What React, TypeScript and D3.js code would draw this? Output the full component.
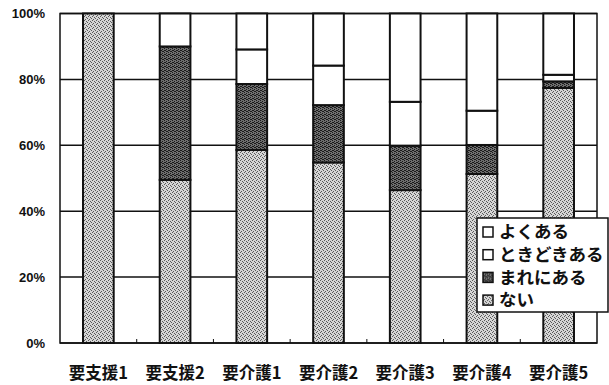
import React, { useEffect, useRef } from 'react';
import * as d3 from 'd3';

const categories = ['要支援1', '要支援2', '要介護1', '要介護2', '要介護3', '要介護4', '要介護5'];
const seriesNames = ['ない', 'まれにある', 'ときどきある', 'よくある'];
const nai = [100, 49.5, 58.6, 54.8, 46.4, 51.3, 77.4];
const mare = [0, 40.5, 20.0, 17.4, 13.5, 8.8, 2.0];
const tokidoki = [0, 10.0, 10.5, 12.0, 13.3, 10.4, 2.0];
const yoku = [0, 0, 10.9, 15.8, 26.8, 29.5, 18.6];
const yTicks = [0, 20, 40, 60, 80, 100];

const App = () => {
    const ref = useRef<SVGSVGElement>(null);

    useEffect(() => {
        const width = 609;
        const height = 385;
        const margin = { top: 13.5, right: 12, bottom: 42, left: 60 };

        const svg = d3.select(ref.current);
        svg.selectAll('*').remove();

        const defs = svg.append('defs');
        // stippled fills, like the printed halftone
        const light = defs.append('pattern')
            .attr('id', 'pLight').attr('width', 4).attr('height', 4)
            .attr('patternUnits', 'userSpaceOnUse');
        light.append('rect').attr('width', 4).attr('height', 4).attr('fill', '#d6d6d6');
        [[0, 0], [2, 1], [1, 3], [3, 2]].forEach(([a, b]) =>
            light.append('rect').attr('x', a).attr('y', b).attr('width', 1).attr('height', 1).attr('fill', '#5a5a5a'));

        const dark = defs.append('pattern')
            .attr('id', 'pDark').attr('width', 4).attr('height', 4)
            .attr('patternUnits', 'userSpaceOnUse');
        dark.append('rect').attr('width', 4).attr('height', 4).attr('fill', '#6e6e6e');
        [[0, 0], [2, 1], [1, 2], [3, 3], [0, 2], [2, 3]].forEach(([a, b]) =>
            dark.append('rect').attr('x', a).attr('y', b).attr('width', 1).attr('height', 1).attr('fill', '#1a1a1a'));

        const fills = ['url(#pLight)', 'url(#pDark)', '#ffffff', '#ffffff'];

        const x = d3.scaleBand()
            .domain(categories)
            .range([margin.left, width - margin.right])
            .paddingInner(0.6)
            .paddingOuter(0.3);

        const y = d3.scaleLinear()
            .domain([0, 100])
            .range([height - margin.bottom, margin.top]);

        // plot frame + grid
        svg.append('rect')
            .attr('x', margin.left).attr('y', margin.top)
            .attr('width', width - margin.right - margin.left)
            .attr('height', y(0) - margin.top)
            .attr('fill', 'none').attr('stroke', '#111').attr('stroke-width', 1.5);

        svg.selectAll('.grid')
            .data(yTicks)
            .enter().append('line')
            .attr('class', 'grid')
            .attr('x1', margin.left).attr('x2', width - margin.right)
            .attr('y1', d => y(d)).attr('y2', d => y(d))
            .attr('stroke', '#111').attr('stroke-width', 1.5);

        // small category ticks at band boundaries
        const step = x.step();
        svg.selectAll('.ctick')
            .data(categories.slice(1))
            .enter().append('line')
            .attr('x1', d => x(d)! - step * 0.3)
            .attr('x2', d => x(d)! - step * 0.3)
            .attr('y1', y(0)).attr('y2', y(0) - 4)
            .attr('stroke', '#111').attr('stroke-width', 1);

        const stack = d3.stack<number>()
            .keys(['0', '1', '2', '3'])
            .value((i, k) => [nai, mare, tokidoki, yoku][+k][i]);
        const series = stack(categories.map((_, i) => i));

        series.forEach((s, si) => {
            svg.append('g')
                .selectAll('rect')
                .data(s.filter(d => d[1] - d[0] > 0))
                .enter().append('rect')
                .attr('x', d => x(categories[d.data])!)
                .attr('width', x.bandwidth())
                .attr('y', d => y(d[1]))
                .attr('height', d => y(d[0]) - y(d[1]))
                .attr('fill', fills[si])
                .attr('stroke', '#111')
                .attr('stroke-width', 2);
        });

        // y labels
        svg.selectAll('.ylab')
            .data(yTicks)
            .enter().append('text')
            .attr('x', 45).attr('y', d => y(d))
            .attr('dy', '0.35em')
            .attr('text-anchor', 'end')
            .style('font-family', 'Arial, "Liberation Sans", sans-serif')
            .style('font-weight', 'bold')
            .style('font-size', '13px')
            .style('fill', '#111')
            .text(d => d + '%');

        // x labels
        svg.selectAll('.xlab')
            .data(categories)
            .enter().append('text')
            .attr('x', d => x(d)! + x.bandwidth() / 2)
            .attr('y', 373)
            .attr('dy', '0.35em')
            .attr('text-anchor', 'middle')
            .style('font-family', '"Noto Sans CJK JP", sans-serif')
            .style('font-weight', 'bold')
            .style('font-size', '16.5px')
            .style('fill', '#111')
            .text(d => d);

        // legend
        const lg = svg.append('g').attr('transform', 'translate(477, 218)');
        lg.append('rect')
            .attr('width', 131).attr('height', 94)
            .attr('fill', '#fff').attr('stroke', '#111').attr('stroke-width', 1.5);
        const order = [3, 2, 1, 0];
        order.forEach((si, i) => {
            const row = lg.append('g').attr('transform', `translate(6, ${14 + i * 22.7})`);
            row.append('rect')
                .attr('x', 0).attr('y', -5).attr('width', 10).attr('height', 10)
                .attr('fill', fills[si]).attr('stroke', '#111').attr('stroke-width', 1.5);
            row.append('text')
                .attr('x', 16).attr('dy', '0.35em')
                .style('font-family', '"Noto Sans CJK JP", sans-serif')
                .style('font-weight', 'bold')
                .style('font-size', '17.5px')
                .style('fill', '#111')
                .text(seriesNames[si]);
        });
    }, []);

    return (
        <svg ref={ref} width={609} height={385}
            style={{ position: 'absolute', left: 0, top: 0, background: '#fff' }} />
    );
};

export default App;
